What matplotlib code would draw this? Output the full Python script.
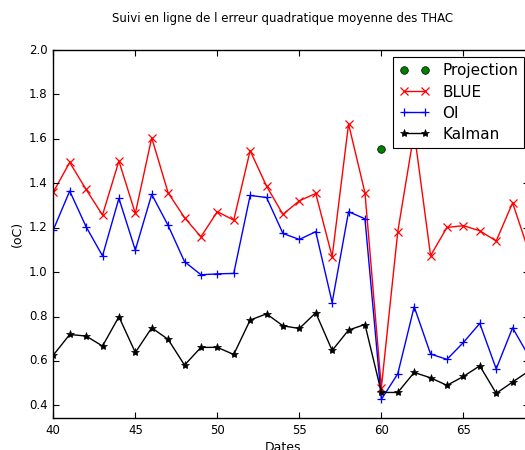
import matplotlib
matplotlib.use("Agg")
import matplotlib.pyplot as plt

plt.style.use("classic")
plt.rcParams["figure.facecolor"] = "white"
plt.rcParams["savefig.facecolor"] = "white"
plt.rcParams["font.family"] = ["DejaVu Sans"]

# Daily RMSE values (°C) for each analysis method
dates = list(range(40, 70))
blue = [1.36, 1.494, 1.372, 1.257, 1.500, 1.264, 1.605, 1.357, 1.245, 1.159,
        1.272, 1.234, 1.547, 1.387, 1.260, 1.321, 1.354, 1.069, 1.667, 1.357,
        0.480, 1.182, 1.63, 1.074, 1.201, 1.209, 1.186, 1.140, 1.312, 1.09]
oi = [1.19, 1.365, 1.204, 1.073, 1.332, 1.099, 1.350, 1.210, 1.047, 0.988,
      0.992, 0.994, 1.345, 1.336, 1.174, 1.147, 1.182, 0.863, 1.272, 1.240,
      0.427, 0.542, 0.844, 0.631, 0.607, 0.683, 0.769, 0.564, 0.749, 0.62]
kalman = [0.626, 0.719, 0.712, 0.667, 0.799, 0.638, 0.749, 0.697, 0.581, 0.661,
          0.661, 0.629, 0.784, 0.812, 0.758, 0.746, 0.817, 0.647, 0.739, 0.764,
          0.458, 0.458, 0.548, 0.524, 0.490, 0.530, 0.578, 0.454, 0.505, 0.555]
proj_dates = [60]
projection = [1.553]

xticks = [40, 45, 50, 55, 60, 65]
yticks = [0.4, 0.6, 0.8, 1.0, 1.2, 1.4, 1.6, 1.8, 2.0]

W, H = 525, 450
fig = plt.figure(figsize=(W / 100, H / 100), dpi=100)
left, right, bottom, top = 53.3, 529.0, 418.0, 50.0
ax = fig.add_axes([left / W, 1 - bottom / H, (right - left) / W, (bottom - top) / H])

ax.plot(proj_dates, projection, "o", color="g", markersize=5.5,
        markeredgecolor="k", markeredgewidth=0.5, label="Projection")
ax.plot(dates, blue, "-x", color="r", markeredgecolor="r", linewidth=1.0,
        markersize=5.5, markeredgewidth=0.9, label="BLUE")
ax.plot(dates, oi, "-+", color="b", markeredgecolor="b", linewidth=1.0,
        markersize=6, markeredgewidth=0.9, label="OI")
ax.plot(dates, kalman, "-*", color="k", markeredgecolor="k", linewidth=1.0,
        markersize=6, markeredgewidth=0.5, label="Kalman")

ax.set_xticks(xticks)
ax.set_yticks(yticks)
ax.set_xlim(40, 69)
ax.set_ylim(0.343, 2.0)
ax.set_yticklabels([f"{v:.1f}" for v in yticks])
ax.tick_params(labelsize=8.5, direction="in", length=4, width=0.8)
ax.tick_params(which="minor", length=0)

cx = (283 - left) / (right - left)
ax.set_title("Suivi en ligne de l erreur quadratique moyenne des THAC",
             fontsize=8.5, x=cx, y=1.0 + 21 / (bottom - top))
ax.set_xlabel("Dates", fontsize=9)
ax.xaxis.set_label_coords(cx, -23 / (bottom - top))
ax.set_ylabel("(oC)", fontsize=9)
ax.yaxis.set_label_coords(-29 / (right - left), 0.5)

leg = ax.legend(loc="upper right", numpoints=2, fontsize=11,
                bbox_to_anchor=(524 / W, 1 - 57.3 / H), bbox_transform=fig.transFigure,
                borderaxespad=0.0, handlelength=2.0, borderpad=0.4,
                labelspacing=0.4, handletextpad=0.8, fancybox=False)
leg.get_frame().set_linewidth(0.8)

fig.savefig("out.png", dpi=100)
